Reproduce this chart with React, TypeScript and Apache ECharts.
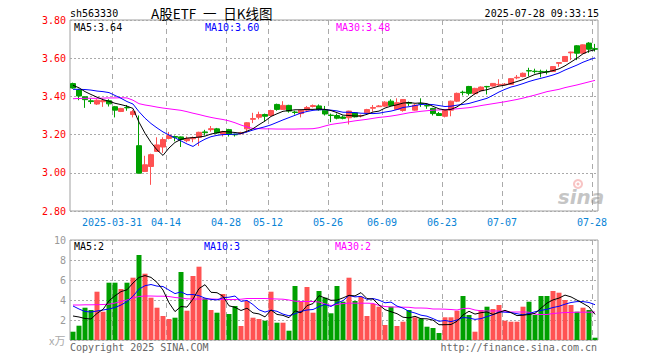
import React, { useEffect, useRef } from 'react';
import * as echarts from 'echarts';

const dates = [
  '2025-03-20','2025-03-21','2025-03-24','2025-03-25','2025-03-26','2025-03-27','2025-03-28','2025-03-31',
  '2025-04-01','2025-04-02','2025-04-03','2025-04-07','2025-04-08','2025-04-09','2025-04-10','2025-04-11',
  '2025-04-14','2025-04-15','2025-04-16','2025-04-17','2025-04-18','2025-04-21','2025-04-22','2025-04-23',
  '2025-04-24','2025-04-25','2025-04-28','2025-04-29','2025-04-30','2025-05-06','2025-05-07','2025-05-08',
  '2025-05-09','2025-05-12','2025-05-13','2025-05-14','2025-05-15','2025-05-16','2025-05-19','2025-05-20',
  '2025-05-21','2025-05-22','2025-05-23','2025-05-26','2025-05-27','2025-05-28','2025-05-29','2025-05-30',
  '2025-06-03','2025-06-04','2025-06-05','2025-06-06','2025-06-09','2025-06-10','2025-06-11','2025-06-12',
  '2025-06-13','2025-06-16','2025-06-17','2025-06-18','2025-06-19','2025-06-20','2025-06-23','2025-06-24',
  '2025-06-25','2025-06-26','2025-06-27','2025-06-30','2025-07-01','2025-07-02','2025-07-03','2025-07-04',
  '2025-07-07','2025-07-08','2025-07-09','2025-07-10','2025-07-11','2025-07-14','2025-07-15','2025-07-16',
  '2025-07-17','2025-07-18','2025-07-21','2025-07-22','2025-07-23','2025-07-24','2025-07-25','2025-07-28',
];

const opens = [
  3.467,3.433,3.398,3.377,3.36,3.372,3.377,3.346,3.321,3.342,
  3.305,3.142,3.007,3.033,3.112,3.135,3.18,3.19,3.188,3.168,
  3.178,3.186,3.214,3.226,3.23,3.202,3.226,3.202,3.205,3.23,
  3.28,3.291,3.305,3.30,3.358,3.332,3.353,3.318,3.31,3.328,
  3.347,3.35,3.328,3.302,3.30,3.292,3.288,3.314,3.298,3.314,
  3.338,3.346,3.349,3.375,3.332,3.326,3.368,3.328,3.362,3.352,
  3.337,3.31,3.296,3.328,3.375,3.422,3.452,3.414,3.43,3.452,
  3.454,3.46,3.461,3.463,3.497,3.504,3.535,3.532,3.531,3.53,
  3.53,3.573,3.583,3.628,3.665,3.626,3.679,3.65,
];
const closes = [
  3.444,3.402,3.383,3.373,3.38,3.378,3.361,3.328,3.337,3.34,
  3.32,2.998,3.042,3.095,3.146,3.174,3.195,3.186,3.174,3.179,
  3.184,3.212,3.21,3.231,3.209,3.216,3.202,3.199,3.21,3.262,
  3.284,3.305,3.296,3.326,3.332,3.353,3.323,3.316,3.328,3.342,
  3.352,3.33,3.308,3.30,3.286,3.285,3.323,3.293,3.30,3.331,
  3.342,3.35,3.37,3.353,3.367,3.384,3.364,3.354,3.36,3.35,
  3.31,3.30,3.326,3.375,3.416,3.42,3.416,3.442,3.449,3.45,
  3.468,3.463,3.464,3.493,3.50,3.521,3.533,3.53,3.528,3.528,
  3.556,3.577,3.609,3.632,3.626,3.67,3.647,3.647,
];
const highs = [
  3.472,3.44,3.40,3.39,3.385,3.39,3.385,3.35,3.34,3.355,
  3.33,3.30,3.089,3.10,3.186,3.186,3.214,3.195,3.19,3.19,
  3.19,3.215,3.225,3.245,3.235,3.22,3.23,3.205,3.215,3.265,
  3.314,3.32,3.31,3.33,3.362,3.375,3.356,3.325,3.33,3.35,
  3.358,3.358,3.35,3.31,3.31,3.30,3.325,3.318,3.305,3.335,
  3.355,3.355,3.375,3.385,3.39,3.386,3.373,3.36,3.39,3.36,
  3.34,3.318,3.33,3.378,3.42,3.43,3.455,3.445,3.452,3.455,
  3.47,3.49,3.47,3.495,3.512,3.525,3.55,3.545,3.54,3.54,
  3.558,3.58,3.61,3.634,3.668,3.672,3.684,3.675,
];
const lows = [
  3.44,3.38,3.34,3.36,3.355,3.345,3.347,3.29,3.318,3.325,
  3.29,2.998,3.005,2.937,3.11,3.104,3.175,3.165,3.135,3.16,
  3.16,3.14,3.195,3.215,3.205,3.19,3.19,3.19,3.20,3.21,
  3.26,3.28,3.27,3.295,3.325,3.33,3.315,3.305,3.29,3.318,
  3.342,3.325,3.30,3.265,3.28,3.28,3.253,3.29,3.29,3.31,
  3.32,3.345,3.345,3.35,3.33,3.32,3.35,3.325,3.345,3.335,
  3.30,3.298,3.29,3.296,3.37,3.405,3.405,3.41,3.428,3.41,
  3.452,3.455,3.458,3.46,3.49,3.50,3.505,3.52,3.50,3.515,
  3.528,3.555,3.58,3.59,3.59,3.624,3.628,3.635,
];

const ma5 = [
  3.458,3.445,3.425,3.41,3.396,3.383,3.375,3.364,3.357,3.349,
  3.337,3.265,3.207,3.159,3.12,3.091,3.13,3.159,3.175,3.182,
  3.184,3.187,3.192,3.203,3.209,3.216,3.214,3.211,3.207,3.218,
  3.231,3.252,3.271,3.295,3.309,3.322,3.326,3.33,3.33,3.332,
  3.332,3.334,3.332,3.326,3.315,3.302,3.30,3.297,3.297,3.306,
  3.318,3.323,3.339,3.349,3.356,3.365,3.368,3.364,3.366,3.362,
  3.348,3.335,3.329,3.332,3.345,3.367,3.391,3.414,3.429,3.435,
  3.445,3.454,3.459,3.468,3.478,3.488,3.502,3.515,3.522,3.528,
  3.535,3.544,3.56,3.58,3.60,3.623,3.637,3.644,
];
const ma10 = [
  3.437,3.437,3.436,3.433,3.428,3.425,3.42,3.405,3.39,3.373,
  3.36,3.32,3.286,3.258,3.235,3.214,3.198,3.183,3.167,3.151,
  3.138,3.159,3.176,3.189,3.196,3.20,3.201,3.202,3.205,3.214,
  3.224,3.233,3.241,3.251,3.264,3.277,3.289,3.301,3.313,3.321,
  3.327,3.33,3.331,3.328,3.324,3.317,3.317,3.315,3.312,3.311,
  3.31,3.312,3.318,3.323,3.331,3.342,3.346,3.352,3.358,3.359,
  3.357,3.352,3.347,3.349,3.354,3.358,3.363,3.372,3.381,3.39,
  3.406,3.423,3.437,3.449,3.457,3.467,3.478,3.487,3.495,3.503,
  3.512,3.523,3.538,3.551,3.564,3.579,3.591,3.602,
];
const ma30 = [
  3.388,3.389,3.39,3.39,3.39,3.391,3.392,3.392,3.393,3.392,
  3.38,3.362,3.355,3.35,3.344,3.339,3.335,3.331,3.327,3.32,
  3.312,3.305,3.297,3.29,3.284,3.279,3.272,3.262,3.25,3.24,
  3.232,3.231,3.23,3.23,3.229,3.229,3.229,3.229,3.23,3.23,
  3.231,3.236,3.245,3.253,3.258,3.262,3.267,3.272,3.276,3.28,
  3.285,3.29,3.293,3.297,3.302,3.308,3.314,3.318,3.322,3.325,
  3.328,3.329,3.331,3.333,3.335,3.338,3.341,3.346,3.352,3.357,
  3.362,3.367,3.372,3.378,3.384,3.391,3.399,3.407,3.416,3.425,
  3.431,3.437,3.446,3.453,3.46,3.468,3.476,3.484,
];

const volumes = [
  0.83,1.43,3.23,3.0,4.83,2.83,5.73,5.73,5.1,5.73,
  6.23,8.5,6.63,4.23,3.23,2.4,2.1,2.23,6.8,2.93,
  6.4,7.33,4.17,3.0,2.73,4.6,2.6,3.4,1.4,3.9,
  2.23,2.1,1.93,4.83,1.73,1.73,0.93,5.4,3.83,5.3,
  2.73,4.9,4.23,2.67,5.4,3.83,6.23,3.9,4.33,2.4,
  3.6,3.33,1.5,3.33,1.4,1.83,3.0,2.27,2.17,1.33,
  1.2,0.7,2.27,2.27,2.93,4.4,2.5,0.83,3.0,3.33,
  3.1,3.5,1.93,1.83,1.83,3.33,3.83,2.5,4.4,4.4,
  4.9,4.73,4.0,3.5,2.83,3.23,3.0,0.23,
];
const volMa5 = [
  2.4,2.3,2.15,2.1,2.66,3.06,3.92,4.42,4.84,5.02,
  5.70,6.26,6.44,6.26,5.76,5.0,3.72,2.84,3.35,3.29,
  4.09,5.14,5.53,4.77,4.73,4.37,3.42,3.27,2.95,3.18,
  2.71,2.61,2.31,3.0,2.56,2.46,2.23,2.92,2.72,3.44,
  3.64,4.43,4.2,3.97,3.99,4.21,4.47,4.41,4.74,4.14,
  4.09,3.51,3.03,2.83,2.63,2.28,2.21,2.37,2.13,2.12,
  1.99,1.53,1.53,1.55,1.87,2.51,2.87,2.59,2.73,2.81,
  2.55,2.75,2.97,2.74,2.44,2.48,2.55,2.66,3.18,3.69,
  4.01,4.19,4.49,4.31,3.99,3.66,3.31,2.56,
];
const volMa10 = [
  3.4,3.1,2.85,2.8,2.9,3.0,3.1,3.25,3.5,3.84,
  4.38,5.09,5.43,5.55,5.39,5.35,4.99,4.64,4.81,4.53,
  4.55,4.43,4.19,4.06,4.01,4.23,4.28,4.4,3.86,3.96,
  3.54,3.02,2.79,2.98,2.87,2.59,2.42,2.62,2.86,3.0,
  3.05,3.33,3.56,3.35,3.72,3.93,4.45,4.31,4.36,4.07,
  4.15,3.99,3.72,3.79,3.39,3.19,2.86,2.7,2.48,2.38,
  2.14,1.87,1.95,1.84,2.0,2.25,2.2,2.06,2.14,2.34,
  2.53,2.81,2.78,2.74,2.63,2.52,2.65,2.82,2.96,3.07,
  3.25,3.37,3.58,3.75,3.84,3.84,3.75,3.53,
];
const volMa30 = [
  3.5,3.5,3.52,3.52,3.53,3.55,3.58,3.7,3.85,4.0,
  4.2,4.35,4.4,4.4,4.38,4.38,4.35,4.25,4.2,4.12,
  4.1,4.1,4.1,4.1,4.08,4.05,4.05,4.05,4.08,4.15,
  4.15,4.15,4.15,4.12,4.1,4.08,4.0,3.88,3.85,3.85,
  3.85,3.8,3.6,3.45,3.55,3.65,3.68,3.68,3.68,3.68,
  3.66,3.45,3.35,3.3,3.3,3.28,3.27,3.2,3.2,3.18,
  3.1,3.1,3.08,3.05,3.0,3.15,3.17,3.0,2.92,2.9,
  2.9,2.9,2.88,2.8,2.8,2.8,2.78,2.58,2.55,2.55,
  2.65,2.7,2.75,2.75,2.78,2.78,2.78,2.8,
];

const tickDates = ['2025-03-31','2025-04-14','2025-04-28','2025-05-12','2025-05-26','2025-06-09','2025-06-23','2025-07-07','2025-07-28'];
const tickLabels = ['2025-03-31','04-14','04-28','05-12','05-26','06-09','06-23','07-07','07-28'];

const priceMin = 2.8;
const priceMax = 3.8;
const priceStep = 0.2;
const volMin = 0;
const volMax = 10;
const volStep = 2;

const RED = '#ff5252';
const GREEN = '#00a000';
const MONO = '"DejaVu Sans Mono", monospace';
const GRID_LEFT = 70;
const GRID_W = 528;

export default function App() {
  const ref = useRef<HTMLDivElement>(null);
  useEffect(() => {
    if (!ref.current) return;
    const chart = echarts.init(ref.current, undefined, { renderer: 'svg' });

    const tickIdx = tickDates.map((d) => dates.indexOf(d));
    const labelMap: Record<number, string> = {};
    tickIdx.forEach((k, j) => { labelMap[k] = tickLabels[j]; });
    const boundaries = dates.concat(['']);
    const showTick = (index: number) => labelMap[index] !== undefined;

    const candleData = opens.map((o, i) => [o, closes[i], lows[i], highs[i]]);
    const volData = volumes.map((v, i) => ({
      value: v,
      itemStyle: { color: closes[i] >= opens[i] ? RED : GREEN },
    }));

    const txt = (x: number, y: number, text: string, fill: string, font: string, align = 'left') => ({
      type: 'text', x, y, silent: true, z: 100,
      style: { text, fill, font, textAlign: align, align, textVerticalAlign: 'middle', verticalAlign: 'middle' },
    });

    const dashed = { color: '#aaaaaa', type: [5, 4] as any, width: 1 };
    const dotted = { color: '#aaaaaa', type: [2, 2] as any, width: 1 };

    const lastMa5 = ma5[ma5.length - 1].toFixed(2);
    const lastMa10 = ma10[ma10.length - 1].toFixed(2);
    const lastMa30 = ma30[ma30.length - 1].toFixed(2);
    const lastV5 = Math.floor(volMa5[volMa5.length - 1]);
    const lastV10 = Math.floor(volMa10[volMa10.length - 1]);
    const lastV30 = Math.floor(volMa30[volMa30.length - 1]);

    const option: any = {
      animation: false,
      backgroundColor: '#ffffff',
      grid: [
        { left: GRID_LEFT, top: 20, width: GRID_W, height: 191, show: true, borderColor: '#a0a0a0', borderWidth: 1, backgroundColor: 'transparent' },
        { left: GRID_LEFT, top: 240, width: GRID_W, height: 100, show: true, borderColor: '#a0a0a0', borderWidth: 1, backgroundColor: 'transparent' },
      ],
      xAxis: [
        { type: 'category', gridIndex: 0, data: dates, boundaryGap: true, axisLine: { show: false }, axisTick: { show: false }, axisLabel: { show: false }, splitLine: { show: false } },
        {
          type: 'category', gridIndex: 0, data: boundaries, boundaryGap: false, position: 'bottom',
          axisLine: { show: false }, axisTick: { show: false },
          axisLabel: { show: true, interval: (i: number) => showTick(i), formatter: (_v: string, i: number) => labelMap[i] || '', color: '#0a84d6', fontFamily: MONO, fontSize: 10, margin: 6 },
          splitLine: { show: true, interval: (i: number) => showTick(i), lineStyle: dashed },
        },
        { type: 'category', gridIndex: 1, data: dates, boundaryGap: true, axisLine: { show: false }, axisTick: { show: false }, axisLabel: { show: false }, splitLine: { show: false } },
        {
          type: 'category', gridIndex: 1, data: boundaries, boundaryGap: false,
          axisLine: { show: false }, axisTick: { show: false }, axisLabel: { show: false },
          splitLine: { show: true, interval: (i: number) => showTick(i), lineStyle: dashed },
        },
      ],
      yAxis: [
        {
          type: 'value', gridIndex: 0, min: priceMin, max: priceMax, interval: priceStep,
          axisLine: { show: false }, axisTick: { show: false },
          axisLabel: { color: '#ff0000', fontFamily: MONO, fontSize: 10, margin: 4, formatter: (v: number) => v.toFixed(2) },
          splitLine: { show: true, lineStyle: dotted },
        },
        {
          type: 'value', gridIndex: 1, min: volMin, max: volMax, interval: volStep,
          axisLine: { show: false }, axisTick: { show: false },
          axisLabel: { color: '#999999', fontFamily: MONO, fontSize: 10, margin: 4, formatter: (v: number) => (v === 0 ? '' : String(v)) },
          splitLine: { show: true, lineStyle: dotted },
        },
      ],
      series: [
        {
          type: 'candlestick', xAxisIndex: 0, yAxisIndex: 0, data: candleData, barWidth: 5,
          itemStyle: { color: RED, color0: GREEN, borderColor: RED, borderColor0: GREEN, borderColorDoji: RED, borderWidth: 1 },
        },
        { type: 'line', xAxisIndex: 0, yAxisIndex: 0, data: ma30, showSymbol: false, symbol: 'none', lineStyle: { color: '#ff00ff', width: 1 }, z: 3 },
        { type: 'line', xAxisIndex: 0, yAxisIndex: 0, data: ma10, showSymbol: false, symbol: 'none', lineStyle: { color: '#0000ff', width: 1 }, z: 3 },
        { type: 'line', xAxisIndex: 0, yAxisIndex: 0, data: ma5, showSymbol: false, symbol: 'none', lineStyle: { color: '#000000', width: 1 }, z: 3 },
        { type: 'bar', xAxisIndex: 2, yAxisIndex: 1, data: volData, barWidth: 5 },
        { type: 'line', xAxisIndex: 2, yAxisIndex: 1, data: volMa30, showSymbol: false, symbol: 'none', lineStyle: { color: '#ff00ff', width: 1 }, z: 3 },
        { type: 'line', xAxisIndex: 2, yAxisIndex: 1, data: volMa10, showSymbol: false, symbol: 'none', lineStyle: { color: '#0000ff', width: 1 }, z: 3 },
        { type: 'line', xAxisIndex: 2, yAxisIndex: 1, data: volMa5, showSymbol: false, symbol: 'none', lineStyle: { color: '#000000', width: 1 }, z: 3 },
      ],
      graphic: [
        txt(70, 13, 'sh563330', '#000000', `10px ${MONO}`),
        txt(151, 13, 'A股ETF\u2002一\u2002日K线图', '#000000', '13.5px "Noto Sans CJK SC"'),
        txt(599, 13, '2025-07-28 09:33:15', '#000000', `10px ${MONO}`, 'right'),
        txt(74, 27, `MA5:${lastMa5}`, '#000000', `10px ${MONO}`),
        txt(205, 27, `MA10:${lastMa10}`, '#0000ff', `10px ${MONO}`),
        txt(336, 27, `MA30:${lastMa30}`, '#ff00ff', `10px ${MONO}`),
        txt(74, 246.5, `MA5:${lastV5}`, '#000000', `10px ${MONO}`),
        txt(204, 246.5, `MA10:${lastV10}`, '#0000ff', `10px ${MONO}`),
        txt(335, 246.5, `MA30:${lastV30}`, '#ff00ff', `10px ${MONO}`),
        txt(49, 339.5, 'x万', '#aaaaaa', '11px "Noto Sans CJK SC"'),
        txt(70, 347, 'Copyright 2025 SINA.COM', '#666666', `10px ${MONO}`),
        txt(597, 347, 'http://finance.sina.com.cn', '#666666', `10px ${MONO}`, 'right'),
        { type: 'ring', silent: true, z: 1, shape: { cx: 578, cy: 184, r: 5, r0: 3 }, style: { fill: 'rgba(235,90,90,0.35)' } },
        { type: 'circle', silent: true, z: 1, shape: { cx: 578, cy: 184, r: 1.5 }, style: { fill: 'rgba(235,90,90,0.4)' } },
        txt(581, 197, 'sina', 'rgba(140,140,140,0.5)', 'italic bold 20px "DejaVu Sans"', 'center'),
      ],
    };

    chart.setOption(option);
    return () => chart.dispose();
  }, []);

  return <div ref={ref} style={{ position: 'absolute', left: 0, top: 0, width: 660, height: 360, background: '#fff' }} />;
}
